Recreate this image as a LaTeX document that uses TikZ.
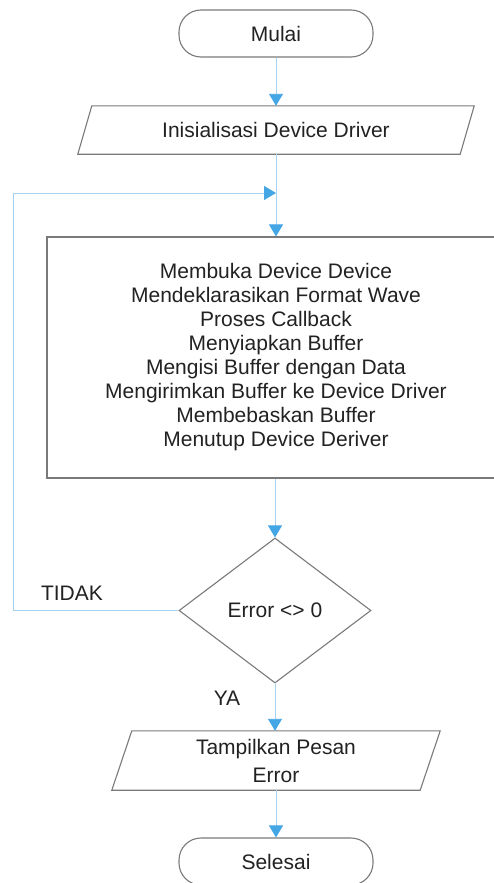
\documentclass[tikz,border=0pt]{standalone}
\usepackage{fontspec}
\setmainfont{Liberation Sans}
\usetikzlibrary{shapes.geometric,arrows.meta}
\definecolor{outl}{HTML}{7A7A7A}
\definecolor{linec}{HTML}{A6D3F2}
\definecolor{tipc}{HTML}{45A6E6}
\definecolor{txt}{HTML}{222222}
\begin{document}
\begin{tikzpicture}[x=1pt,y=-1pt,
  every node/.style={font=\fontsize{21}{24}\selectfont, text=txt},
  term/.style={draw=outl, line width=1.1pt, fill=white, rounded corners=22pt, minimum width=194pt, minimum height=47pt, inner sep=0pt},
  proc/.style={draw=outl, line width=1.1pt, fill=white, minimum width=458pt, minimum height=241pt, align=center, inner sep=0pt},
  ioshape/.style={draw=none, inner sep=0pt, align=center},
  ioline/.style={draw=outl, line width=1.1pt},
  dec/.style={diamond, draw=outl, line width=1.1pt, fill=white, minimum width=192pt, minimum height=145pt, inner sep=0pt},
  connector/.style={draw=linec, line width=0.9pt},
  arr/.style={connector, -{Triangle[width=14pt,length=12pt,color=tipc,fill=tipc]}},
  lbl/.style={inner sep=0pt}]
\useasboundingbox[fill=white] (0,0) rectangle (494,883);

\node[term] (start) at (276,33.5) {Mulai};

\node[ioshape, minimum width=382pt, minimum height=48pt] (init) at (276,130) {Inisialisasi Device Driver};
\draw[ioline] ([xshift=7pt]init.north west) -- ([xshift=7pt]init.north east) -- ([xshift=-7pt]init.south east) -- ([xshift=-7pt]init.south west) -- cycle;

\coordinate (join) at (276,193);

\node[proc] (proc) at (276,357.5) {Membuka Device Device\\Mendeklarasikan Format Wave\\Proses Callback\\Menyiapkan Buffer\\Mengisi Buffer dengan Data\\Mengirimkan Buffer ke Device Driver\\Membebaskan Buffer\\Menutup Device Deriver};

\node[dec] (dec) at (275,610.5) {Error <> 0};

\node[ioshape, minimum width=308pt, minimum height=59pt, font=\fontsize{21}{28}\selectfont] (show) at (276,760.5) {Tampilkan Pesan\\Error};
\draw[ioline] ([xshift=10pt]show.north west) -- ([xshift=10pt]show.north east) -- ([xshift=-10pt]show.south east) -- ([xshift=-10pt]show.south west) -- cycle;

\node[term] (stop) at (276,861.5) {Selesai};

\node[lbl] (tidak) at (72,593) {TIDAK};
\node[lbl] (ya) at (227,698) {YA};

\draw[arr] (start.south) -- (init.north);
\draw[arr] (init.south) -- (proc.north);
\draw[arr] (dec.west) -- ++(-165,0) |- (join);
\draw[arr] (proc.south -| dec.north) -- (dec.north);
\draw[arr] (dec.south) -- (dec.south |- show.north);
\draw[arr] (show.south) -- (stop.north);
\end{tikzpicture}
\end{document}
